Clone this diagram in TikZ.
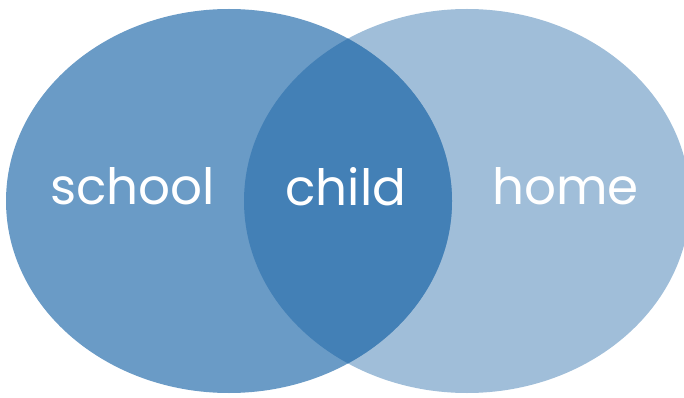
\documentclass[tikz,border=0pt]{standalone}
\usepackage{fontspec}
\setmainfont{Poppins}
\definecolor{schoolc}{RGB}{106,155,198}
\definecolor{homec}{RGB}{160,190,217}
\definecolor{childc}{RGB}{67,128,182}
\tikzset{
  lbl/.style={anchor=base, inner sep=0pt, text=white, font=\fontsize{50}{54}\selectfont}
}
\begin{document}
\begin{tikzpicture}[x=1pt,y=-1pt]
\useasboundingbox (0,0) rectangle (684,398);
\fill[homec] (467,201) ellipse [x radius=223, y radius=192];
\fill[schoolc] (229,201) ellipse [x radius=223, y radius=192];
\begin{scope}
  \clip (229,201) ellipse [x radius=223, y radius=192];
  \fill[childc] (467,201) ellipse [x radius=223, y radius=192];
\end{scope}
\node[lbl] (school) at (132.5,204) {school};
\node[lbl] (child) at (346,205) {child};
\node[lbl] (home) at (565.5,204) {home};
\end{tikzpicture}
\end{document}
